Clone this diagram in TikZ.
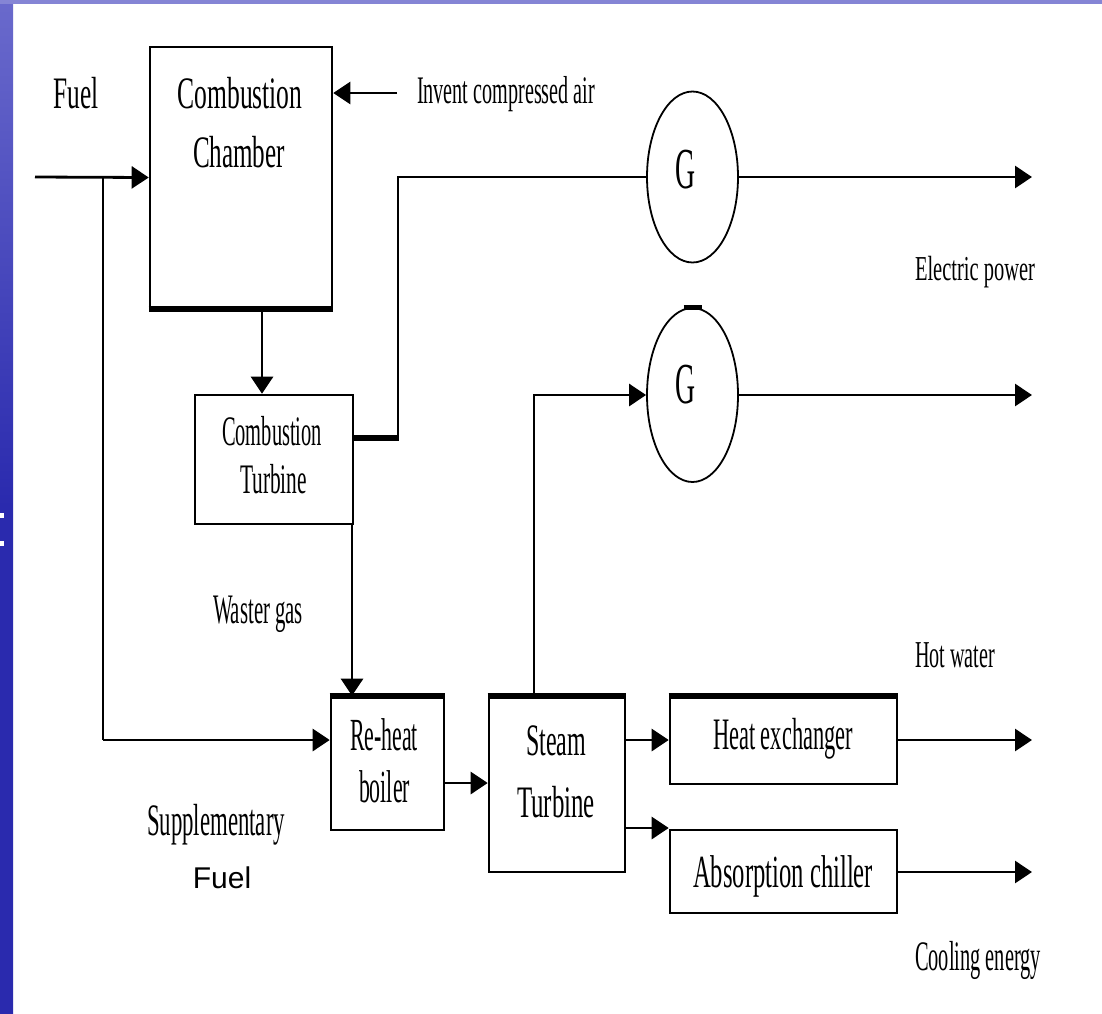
\documentclass[tikz,border=0pt]{standalone}
\usepackage{fontspec}
\setmainfont{Liberation Serif}
\newfontfamily\sansf{Liberation Sans}
\usepackage{graphicx}
\usetikzlibrary{arrows.meta,shapes.geometric}
\definecolor{barblue}{HTML}{2A2AAE}
\definecolor{barlight}{HTML}{6A6ACC}
\definecolor{topbar}{HTML}{8585D5}
\newcommand{\lab}[3]{\fontsize{#1}{#1}\selectfont\resizebox{#2pt}{\height}{#3}}
\begin{document}
\begin{tikzpicture}[x=1pt,y=-1pt,
  box/.style={draw=black,line width=2.6pt,fill=white,inner sep=0pt},
  gen/.style={draw=black,ellipse,line width=1.8pt,inner sep=0pt,minimum width=91pt},
  wire/.style={line width=2.8pt},
  arr/.style={line width=2.8pt,-{Triangle[length=17pt,width=22pt]}},
  thick edge/.style={line width=6pt},
  txt/.style={anchor=base,inner sep=0pt}]
\useasboundingbox (0,0) rectangle (1102,1013);
\fill[white] (0,0) rectangle (1102,1013);
% background bars
\shade[top color=barlight,bottom color=barblue,middle color=barblue] (0,0) rectangle (13,1013);
\fill[topbar] (0,0) rectangle (1102,4);
\fill[white] (0,513) rectangle (4,518);
\fill[white] (0,541) rectangle (4,546);

% boxes
\node[box,minimum width=182pt,minimum height=261pt] (cc) at (241,177.5) {};
\node[box,minimum width=158pt,minimum height=129pt] (ct) at (274,459.5) {};
\node[box,minimum width=113pt,minimum height=133pt] (rb) at (387.5,763.5) {};
\node[box,minimum width=136pt,minimum height=175pt] (st) at (557,784.5) {};
\node[box,minimum width=227pt,minimum height=87pt] (he) at (783.5,740.5) {};
\node[box,minimum width=227pt,minimum height=83pt] (ac) at (783.5,871.5) {};
\node[gen,minimum height=171pt] (g1) at (692.5,177) {};
\node[gen,minimum height=174pt] (g2) at (692.5,395) {};

% thick edges
\draw[thick edge] (cc.south west) -- (cc.south east);
\draw[thick edge] (rb.north west) -- (rb.north east);
\draw[thick edge] (st.north west) -- (st.north east);
\draw[thick edge] (he.north west) -- (he.north east);
\draw[line width=5pt] ([xshift=-9pt]g2.north) -- ([xshift=9pt]g2.north);

% coordinates
\coordinate (fuelin) at (35,177);
\coordinate (br) at (103,177);
\coordinate (brlow) at (103,740);
\coordinate (airin) at (397,93);
\coordinate (ccx) at (262,0);
\coordinate (j1) at (398,438);
\coordinate (wgx) at (352,0);
\coordinate (stx) at (534,395);
\coordinate (rby) at (0,783);
\coordinate (sty1) at (0,740);
\coordinate (sty2) at (0,828);
\coordinate (e1) at (1032,177);
\coordinate (e2) at (1032,395);
\coordinate (e3) at (1032,740);
\coordinate (e4) at (1032,872);

% connectors
\draw[arr] (fuelin) -- (cc.west);
\draw[wire] (br) -- (brlow);
\draw[arr] (brlow) -- (rb.west |- brlow);
\draw[arr] (airin) -- (cc.east |- airin);
\draw[arr] (cc.south -| ccx) -- (ct.north -| ccx);
\draw[thick edge] (ct.east |- j1) -- ([xshift=1pt]j1);
\draw[wire] (j1) -- (j1 |- g1.west) -- (g1.west);
\draw[arr] (g1.east) -- (e1);
\draw[arr] (st.north -| stx) -- (stx) -- (g2.west);
\draw[arr] (g2.east) -- (e2);
\draw[arr] (ct.south -| wgx) -- (rb.north -| wgx);
\draw[arr] (rb.east |- rby) -- (st.west |- rby);
\draw[arr] (st.east |- sty1) -- (he.west |- sty1);
\draw[arr] (st.east |- sty2) -- (ac.north west |- sty2);
\draw[arr] (he.east |- e3) -- (e3);
\draw[arr] (ac.east |- e4) -- (e4);

% texts
\node[txt] (tfuel) at (76,108) {\lab{45}{45}{Fuel}};
\node[txt] (tcc1) at (240,108) {\lab{45}{125}{Combustion}};
\node[txt] (tcc2) at (239,167) {\lab{45}{92}{Chamber}};
\node[txt] (tair) at (506,103) {\lab{39}{178}{Invent compressed air}};
\node[txt] (tg1) at (685,188) {\lab{58}{20}{G}};
\node[txt] (tg2) at (685,403) {\lab{58}{20}{G}};
\node[txt] (tep) at (975,280) {\lab{35}{120}{Electric power}};
\node[txt] (tct1) at (272,445) {\lab{42}{100}{Combustion}};
\node[txt] (tct2) at (273.5,493) {\lab{42}{67}{Turbine}};
\node[txt] (twg) at (258,623) {\lab{42}{90}{Waster gas}};
\node[txt] (trb1) at (384,750) {\lab{46}{68}{Re-heat}};
\node[txt] (trb2) at (384.5,802) {\lab{46}{51}{boiler}};
\node[txt] (tst1) at (556,755) {\lab{45}{60}{Steam}};
\node[txt] (tst2) at (556,817) {\lab{45}{78}{Turbine}};
\node[txt] (the) at (783,749) {\lab{45}{140}{Heat exchanger}};
\node[txt] (tac) at (783,887) {\lab{46}{180}{Absorption chiller}};
\node[txt] (thw) at (955,667) {\lab{38}{80}{Hot water}};
\node[txt] (tce) at (978,970) {\lab{42}{126}{Cooling energy}};
\node[txt] (tsup) at (216,835) {\lab{45}{138}{Supplementary}};
\node[txt] (tsf) at (222,888) {\sansf\fontsize{30}{30}\selectfont Fuel};
\end{tikzpicture}
\end{document}
